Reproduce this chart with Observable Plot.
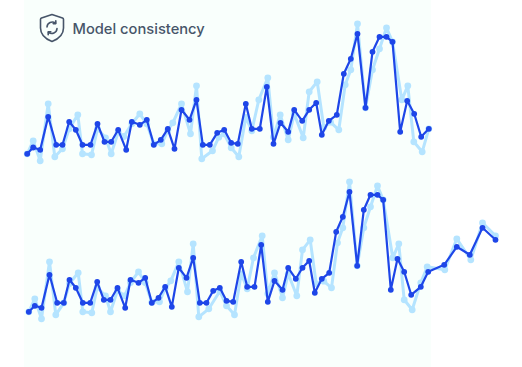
<!DOCTYPE html>
<html><head><meta charset="utf-8">
<script src="https://cdn.jsdelivr.net/npm/d3@7"></script>
<script src="https://cdn.jsdelivr.net/npm/@observablehq/plot@0.6"></script>
<style>html,body{margin:0;padding:0;background:#fff;overflow:hidden}#c{position:relative;width:522px;height:367px}svg{display:block}#i{position:absolute;left:39px;top:13px}</style>
</head><body><div id="c"></div>
<script>
const titleText = "Model consistency";
const topDarkX = [26.7,32.7,39.7,47.7,55.7,62,68.7,75.3,82,90,97,104,110.7,117.7,125.7,131.3,139.3,146.3,153.3,160.3,167.3,174,181,189,196,202.3,209.3,216.7,223.7,230.7,237.3,245.3,251.3,259.3,266.3,273,280,287.7,293.7,301.7,308.7,315.7,321.3,328.3,336.3,343.3,350.3,357,365,372,379,386,392,399.7,406.7,413.7,420.7,428.3];
const topDarkV = [213.7,220,217.7,250.7,222.7,222.7,245.7,237.7,222.7,222.7,243.7,225.7,225.7,237.7,217.7,245.7,242.7,247.7,222.7,227.7,238.7,218.7,257.7,247.7,267.7,222.7,222.7,234.7,237.7,224.7,223.7,263.7,238.7,238.7,280.7,223.7,244.7,235.7,257.7,246.7,257.7,264.7,232.7,246.7,252.7,293.7,308.7,333.7,259.7,315.7,330.7,330.7,325.7,235.7,266.7,253.7,230.7,238.7];
const topLightX = [26.7,32.7,39.7,47.7,54.3,62,68.7,77.3,82,91,97,105,110.7,117.7,123.3,131.3,139.3,146.3,153.3,161.3,167.3,172.3,181,190,196,201.3,212,218.3,223.7,230.7,238.3,245.3,251.3,258.3,267.3,273,279.7,287.7,293.7,302.7,308.7,316.7,323.3,330,338.3,344.7,350.3,357,365,372,379,386,392,401.3,407.3,413.3,421.7,428.3];
const topLightV = [213.7,226.7,206.7,263.7,210.7,218.7,238.7,252.7,213.7,212.7,238.7,229.7,213.7,235.3,231,243.7,253.7,243.7,223.7,223.7,237,244.7,263.7,233.7,281.7,208.7,216.7,230.3,233.7,219.7,210.7,250.3,236.7,267.7,289.7,230.3,252.7,227.7,253.7,229.7,275.7,285.7,240.3,245.3,237.7,282.7,297.7,343.7,259.7,297.7,318.7,339.7,325.7,267.7,281.7,225.7,215.7,238.7];
const botDarkX = [28.3,34.3,41,49,56.7,63.3,69,75.3,82.3,89.7,96.7,103.3,110,117,124.7,130,138,144.7,151.3,158,164.7,171.3,178.3,186,192.7,199.3,206,212.7,219.3,226,232.7,240.7,246.7,254,260.7,267.3,274,282,287.7,295.3,302,308.7,314.3,321.3,328.7,335.7,342.3,349,356.7,363.3,370,377,382.7,390.3,397,403.7,410.7,420.3,427.7,443.7,456.3,469.3,482,495];
const botDarkV = [55.7,61.7,59.7,92.7,64.7,64.7,87.7,79.7,64.7,64.7,85.7,67.7,67.7,79.7,59.7,87.7,84.7,89.7,64.7,69.7,80.7,60.7,99.7,89.7,109.7,64.7,64.7,76.7,79.7,66.7,65.7,105.7,80.7,80.7,122.7,65.7,86.7,77.7,99.7,88.7,99.7,106.7,74.7,88.7,94.7,135.7,150.7,175.7,101.7,157.7,172.7,172.7,167.7,77.7,108.7,95.7,72.7,80.7,95.7,102.7,120.7,112.7,139.7,127.7];
const botLightX = [28.3,34.3,41,49,55.3,63.3,69,77.7,82.3,91.3,96.7,105,110,117,124,130,138,144.7,151.3,159,164.7,170.3,178.3,187,192.7,198.3,208.3,219.3,226,234,240.7,246.7,253,261.7,267.3,274,282,287.7,296.3,302,309.7,315.7,323.3,331,337,342.3,349,356.7,363.3,370,377,382.7,392.3,398.3,403.7,411.7,420.3,426.7,444.3,456.3,470.3,482,495];
const botLightV = [55.7,68.7,48.7,105.7,52.7,64.7,84,94.7,55.7,54.7,80,71.7,55.7,77,71.7,85,95.7,85,65.3,65.7,79,86.7,105.7,75.7,123.7,50.7,58.7,76.3,61.7,52.7,93.7,78.7,109.7,131.7,73.7,94.7,69.7,93.7,71.7,117.7,127.7,83.7,86.3,79.7,124.7,139.7,185.7,101.7,139.7,160.7,181.7,167.7,109.7,123.7,67.7,57.7,84.7,100.7,97.7,128.7,107.7,144.7,131.7];

const DARK = "#1e46e8", LIGHT = "#b5e4ff", BAND = "#f9fffc";
const zip = (xs, vs) => xs.map((x, i) => ({x, v: vs[i]}));
const series = (xs, vs, color, sw, r) => [
  Plot.line(zip(xs, vs), {x: "x", y: "v", stroke: color, strokeWidth: sw, strokeLinejoin: "round"}),
  Plot.dot(zip(xs, vs), {x: "x", y: "v", fill: color, r})
];
const plot = Plot.plot({
  width: 522, height: 367,
  marginTop: 0, marginRight: 0, marginBottom: 0, marginLeft: 0,
  x: {domain: [0, 522], axis: null},
  y: {domain: [0, 367], axis: null},
  style: {background: "#fff"},
  marks: [
    Plot.rect([{x1: 24, x2: 431, y1: 0, y2: 367}], {x1: "x1", x2: "x2", y1: "y1", y2: "y2", fill: BAND}),
    Plot.text([titleText], {x: 72, y: 338, text: d => d, textAnchor: "start", fontFamily: "Inter, 'Open Sans', sans-serif", fontSize: 14.7, fontWeight: 500, fill: "#475569"}),
    ...series(topLightX, topLightV, LIGHT, 3, 3.4),
    ...series(topDarkX, topDarkV, DARK, 2.2, 2.9),
    ...series(botLightX, botLightV, LIGHT, 3, 3.4),
    ...series(botDarkX, botDarkV, DARK, 2.2, 2.9)
  ]
});
const c = document.getElementById("c");
c.appendChild(plot);
const icon = document.createElement("div");
icon.id = "i";
icon.innerHTML = `<svg width="26" height="30" viewBox="0 0 26 30" fill="none" stroke="#475569" stroke-width="1.6" stroke-linecap="round" stroke-linejoin="round"><path d="M13 1.5 L23.5 5 C24.3 5.3 24.5 5.8 24.5 6.5 V15 C24.5 21.5 19.5 26 13 28.5 C6.5 26 1.5 21.5 1.5 15 V6.5 C1.5 5.8 1.7 5.3 2.5 5 Z"/><path d="M8 14 A5.2 5.2 0 0 1 16.5 10.2 M18 15.5 A5.2 5.2 0 0 1 9.5 19.3"/><path d="M16.8 7.8 V10.6 H14.2 M9.2 21.7 V18.9 H11.8"/></svg>`;
c.appendChild(icon);
</script></body></html>
